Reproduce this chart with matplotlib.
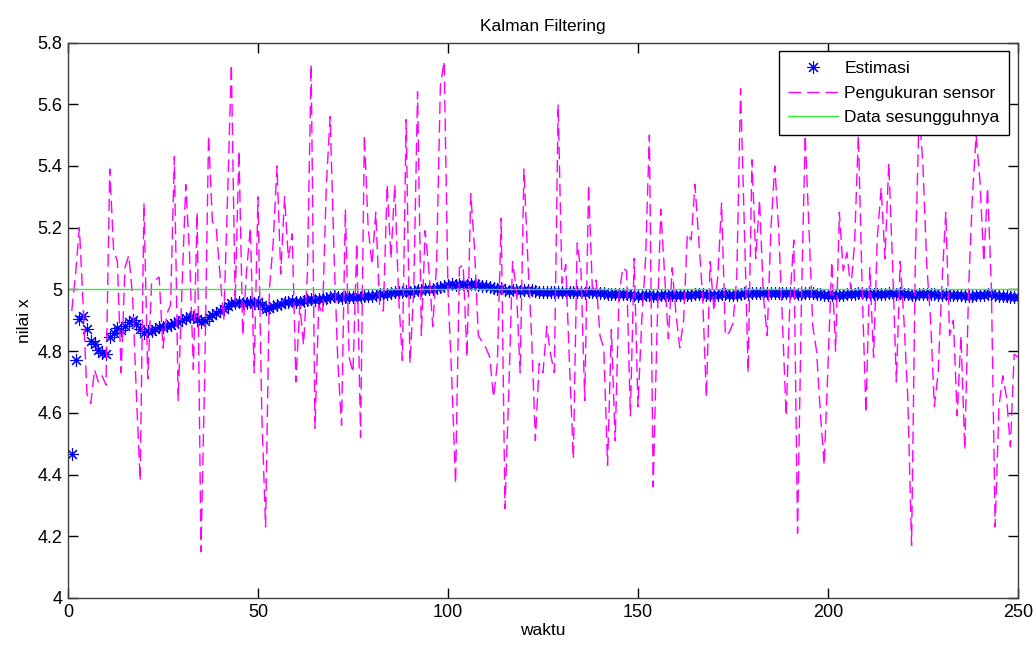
import numpy as np
import matplotlib.pyplot as plt
from matplotlib.ticker import FormatStrFormatter

plt.rcParams['font.family'] = ['Liberation Sans', 'DejaVu Sans']
plt.rcParams['lines.scale_dashes'] = False

# data (waktu 1..250)
waktu = np.arange(1, 251)
nilai_sebenarnya = 5.0

pengukuran = [
    4.93, 5.05, 5.20, 4.95, 4.66, 4.63, 4.74, 4.70, 4.72, 4.69,
    5.39, 5.13, 5.09, 4.73, 5.07, 5.11, 4.98, 4.66, 4.38, 5.28,
    4.71, 5.02, 5.03, 5.04, 4.81, 4.92, 4.95, 5.43, 4.64, 5.00,
    5.34, 5.11, 4.74, 5.25, 4.15, 4.73, 5.50, 5.22, 5.20, 5.05,
    4.90, 5.30, 5.73, 4.96, 5.45, 4.85, 5.06, 5.20, 4.73, 5.30,
    4.60, 4.23, 5.00, 5.15, 5.40, 5.05, 5.30, 5.10, 5.18, 4.70,
    4.95, 4.82, 5.05, 5.73, 4.55, 4.95, 4.92, 5.34, 5.56, 5.12,
    4.77, 4.56, 5.26, 4.78, 4.73, 5.15, 4.52, 5.50, 5.20, 5.08,
    5.25, 4.95, 4.93, 5.34, 5.10, 5.34, 4.98, 4.77, 5.55, 4.76,
    5.00, 5.64, 4.85, 5.19, 5.06, 4.88, 5.08, 5.66, 5.74, 5.00,
    4.71, 4.37, 5.07, 5.08, 4.78, 5.31, 5.13, 4.85, 4.83, 4.81,
    4.78, 4.65, 4.76, 5.23, 4.29, 4.67, 5.09, 5.00, 4.73, 5.39,
    5.10, 4.85, 4.51, 4.76, 4.73, 4.88, 4.79, 4.73, 5.60, 5.02,
    5.08, 4.75, 4.45, 5.15, 5.06, 4.64, 5.34, 5.00, 5.03, 4.85,
    4.81, 4.43, 4.87, 4.51, 4.98, 5.07, 5.06, 4.59, 5.10, 4.62,
    4.90, 5.10, 5.50, 4.36, 4.86, 5.26, 5.05, 4.84, 5.07, 4.92,
    4.81, 4.90, 5.18, 5.16, 5.34, 5.16, 4.98, 4.65, 5.09, 4.93,
    5.04, 5.28, 4.85, 4.86, 4.89, 5.04, 5.65, 5.20, 4.73, 5.42,
    5.10, 5.29, 4.98, 4.85, 5.20, 5.40, 5.20, 4.90, 4.59, 4.97,
    5.16, 4.21, 4.95, 5.50, 5.20, 4.88, 4.80, 4.60, 4.43, 4.75,
    5.09, 4.80, 5.25, 5.06, 5.12, 5.00, 5.15, 5.50, 5.00, 4.60,
    5.07, 4.78, 5.17, 5.33, 5.10, 5.41, 5.08, 4.70, 5.09, 4.90,
    4.65, 4.17, 5.10, 5.58, 5.40, 5.08, 4.90, 4.62, 4.73, 5.02,
    5.25, 4.85, 4.90, 4.59, 4.85, 4.48, 5.00, 5.30, 5.50, 5.35,
    5.09, 5.33, 5.01, 4.23, 4.62, 4.72, 4.65, 4.49, 4.79, 4.78,
]

estimasi = [
    4.466, 4.770, 4.905, 4.915, 4.870, 4.832, 4.822, 4.805, 4.795, 4.790,
    4.845, 4.860, 4.875, 4.868, 4.880, 4.895, 4.900, 4.888, 4.870, 4.858,
    4.865, 4.866, 4.872, 4.878, 4.878, 4.880, 4.885, 4.892, 4.895, 4.900,
    4.908, 4.912, 4.910, 4.905, 4.895, 4.898, 4.910, 4.918, 4.925, 4.930,
    4.938, 4.945, 4.955, 4.955, 4.960, 4.955, 4.957, 4.958, 4.955, 4.958,
    4.950, 4.938, 4.940, 4.945, 4.950, 4.952, 4.958, 4.960, 4.962, 4.958,
    4.960, 4.962, 4.965, 4.968, 4.965, 4.968, 4.968, 4.972, 4.976, 4.978,
    4.976, 4.972, 4.975, 4.974, 4.975, 4.976, 4.974, 4.978, 4.980, 4.980,
    4.982, 4.984, 4.984, 4.986, 4.988, 4.990, 4.990, 4.990, 4.994, 4.993,
    4.995, 4.998, 4.998, 5.000, 5.002, 5.002, 5.004, 5.008, 5.012, 5.015,
    5.016, 5.014, 5.016, 5.016, 5.014, 5.016, 5.016, 5.014, 5.012, 5.010,
    5.008, 5.004, 5.002, 5.004, 4.998, 4.996, 4.997, 4.998, 4.996, 4.998,
    4.998, 4.997, 4.994, 4.993, 4.992, 4.992, 4.991, 4.990, 4.993, 4.993,
    4.993, 4.992, 4.990, 4.991, 4.991, 4.989, 4.990, 4.990, 4.990, 4.989,
    4.988, 4.986, 4.986, 4.984, 4.984, 4.984, 4.984, 4.982, 4.982, 4.980,
    4.980, 4.981, 4.983, 4.980, 4.980, 4.981, 4.982, 4.981, 4.982, 4.982,
    4.981, 4.981, 4.982, 4.983, 4.984, 4.985, 4.984, 4.983, 4.983, 4.983,
    4.983, 4.984, 4.984, 4.983, 4.983, 4.983, 4.986, 4.987, 4.985, 4.987,
    4.987, 4.988, 4.988, 4.987, 4.987, 4.989, 4.989, 4.989, 4.987, 4.987,
    4.988, 4.985, 4.985, 4.987, 4.988, 4.987, 4.986, 4.985, 4.983, 4.982,
    4.983, 4.982, 4.983, 4.983, 4.984, 4.984, 4.985, 4.987, 4.987, 4.985,
    4.985, 4.984, 4.985, 4.986, 4.986, 4.988, 4.988, 4.986, 4.987, 4.986,
    4.985, 4.982, 4.982, 4.985, 4.986, 4.986, 4.986, 4.984, 4.983, 4.983,
    4.984, 4.983, 4.983, 4.981, 4.981, 4.979, 4.979, 4.980, 4.982, 4.983,
    4.983, 4.984, 4.984, 4.981, 4.980, 4.979, 4.978, 4.976, 4.976, 4.976,
]

fig = plt.figure(figsize=(10.36, 6.48), dpi=100)
ax = fig.add_axes([0.0656, 0.0772, 0.9170, 0.8572])

# plot seperti di MATLAB
ax.plot(waktu, estimasi, linestyle='none', marker=(8, 2, 0), markersize=9,
        markeredgewidth=0.8, color='#0000ff', label='Estimasi')
ax.plot(waktu, pengukuran, color='#ff00ff', linewidth=1.0,
        dashes=(9, 4.3), label='Pengukuran sensor')
ax.axhline(nilai_sebenarnya, color='#33ee33', linewidth=1.0,
           label='Data sesungguhnya')

ax.set_xlim(0, 250)
ax.set_ylim(4, 5.8)
ax.set_xticks(np.arange(0, 251, 50))
ax.set_yticks(np.arange(4, 5.81, 0.2))
ax.yaxis.set_major_formatter(FormatStrFormatter('%g'))
ax.tick_params(direction='in', length=7, width=1, top=True, right=True,
               labelsize=13, colors='#000000', pad=4)
for s in ax.spines.values():
    s.set_color('#404040')
    s.set_linewidth(1)

ax.set_title('Kalman Filtering', fontsize=12.5, pad=8)
ax.set_xlabel('waktu', fontsize=12.5, labelpad=2)
ax.set_ylabel('nilai x', fontsize=12.5, labelpad=4)

leg = ax.legend(loc='upper right', fontsize=12.5, fancybox=False,
                edgecolor='#000000', framealpha=1, handlelength=2.9,
                handletextpad=0.35, labelspacing=0.55, borderpad=0.55,
                borderaxespad=0.5)
leg.get_frame().set_linewidth(1)

plt.savefig('out.png', dpi=100)
